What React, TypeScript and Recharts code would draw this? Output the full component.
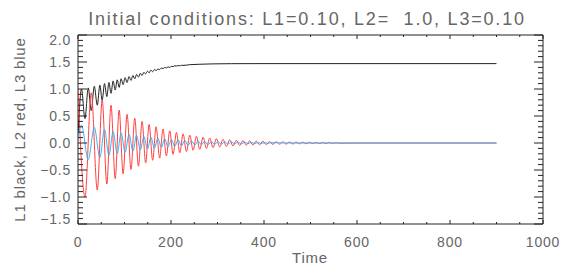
import { Line, LineChart, ReferenceArea, XAxis, YAxis } from 'recharts'

const W = 564
const H = 267
// plot box in page pixels
const BOX = { left: 78, top: 35, right: 543, bottom: 224 }
const BOX_W = BOX.right - BOX.left
const BOX_H = BOX.bottom - BOX.top

const TITLE = 'Initial conditions: L1=0.10, L2=  1.0, L3=0.10'
const X_TITLE = 'Time'
const Y_TITLE = 'L1 black, L2 red, L3 blue'

const X_MAJOR = [0, 200, 400, 600, 800, 1000]
const Y_MAJOR = [-1.5, -1.0, -0.5, 0.0, 0.5, 1.0, 1.5, 2.0]
const X_TICKS = Array.from({ length: 21 }, (_, i) => i * 50)
const Y_TICKS = Array.from({ length: 36 }, (_, i) => (i - 15) / 10)

// L2 (red): extrema
const RED_T = [
  0, 15, 28.5, 41.5, 52, 62, 71, 80, 88.5, 97,
  105.5, 114, 122, 130, 137.8, 145.5, 153, 160.5, 168, 175.5,
  182.8, 190, 197.3, 204.5, 211.7, 218.9, 226, 233.2, 240.4, 247.5,
  254.7, 261.8, 269, 276.1, 283.3, 290.4, 297.6, 304.7, 311.9, 319,
  326.2, 333.3, 340.5, 347.6, 354.8, 361.9, 369, 376.2, 383.3, 390.5,
  397.6, 404.8, 412, 419.1, 426.3, 433.4, 440.5, 447.7, 454.8, 462,
  469.1, 476.3, 483.4, 490.5, 497.7, 504.8, 512, 519.1, 526.3, 533.4,
  540.5, 547.7, 554.8, 562, 600, 900
]
const RED_V = [
  1.0, -1.0, 0.93, -0.87, 0.8, -0.76, 0.7, -0.66, 0.61, -0.57,
  0.53, -0.49, 0.46, -0.43, 0.4, -0.37, 0.345, -0.32, 0.3, -0.28,
  0.26, -0.24, 0.225, -0.21, 0.195, -0.18, 0.17, -0.157, 0.145, -0.135,
  0.125, -0.116, 0.108, -0.1, 0.093, -0.086, 0.08, -0.074, 0.068, -0.063,
  0.058, -0.054, 0.051, -0.048, 0.045, -0.042, 0.04, -0.037, 0.035, -0.033,
  0.031, -0.029, 0.027, -0.026, 0.024, -0.023, 0.021, -0.02, 0.019, -0.018,
  0.017, -0.016, 0.015, -0.014, 0.013, -0.012, 0.011, -0.01, 0.009, -0.008,
  0.007, -0.006, 0.005, -0.004, 0, 0
]

// L3 (blue)
const BLUE_T = [
  0, 7.5, 22, 35, 47, 57, 66.5, 75.5, 84.3, 92.8,
  101.3, 109.8, 118, 126, 134, 141.7, 149.3, 156.8, 164.3, 171.8,
  179.2, 186.4, 193.7, 201, 208, 215.3, 222.5, 229.6, 236.8, 244,
  251.1, 258.3, 265.4, 272.6, 279.7, 286.9, 294, 301.2, 308.3, 315.5,
  322.6, 329.8, 336.9, 344, 351.2, 358.4, 365.5, 372.6, 379.8, 386.9,
  394, 401.2, 408.3, 415.5, 450, 900
]
const BLUE_V = [
  0.1, 0.33, -0.31, 0.29, -0.27, 0.25, -0.23, 0.21, -0.195, 0.18,
  -0.17, 0.16, -0.15, 0.14, -0.13, 0.12, -0.112, 0.104, -0.096, 0.09,
  -0.083, 0.077, -0.071, 0.066, -0.061, 0.056, -0.052, 0.048, -0.044, 0.041,
  -0.038, 0.035, -0.032, 0.03, -0.028, 0.026, -0.024, 0.022, -0.021, 0.02,
  -0.019, 0.018, -0.017, 0.016, -0.015, 0.014, -0.013, 0.012, -0.011, 0.01,
  -0.009, 0.008, -0.007, 0.006, 0, 0
]

// L1 (black)
const BLACK_T = [
  0, 7.5, 15, 22, 28.5, 35, 41.5, 47, 52, 57,
  62, 66.5, 71, 75.5, 80, 84.3, 88.5, 92.8, 97, 101.3,
  105.5, 109.8, 114, 118, 122, 126, 130, 134, 137.8, 141.7,
  145.5, 149.3, 153, 156.8, 160.5, 164.3, 168, 171.8, 175.5, 179.2,
  182.8, 186.4, 190, 193.7, 197.3, 201, 204.5, 208, 211.7, 215.3,
  218.9, 222.5, 226, 240, 260, 290, 330, 400, 900
]
const BLACK_V = [
  0.1, 1.0, 0.45, 1.02, 0.6, 1.05, 0.7, 1.07, 0.79, 1.1,
  0.86, 1.12, 0.92, 1.15, 0.98, 1.17, 1.03, 1.19, 1.08, 1.21,
  1.12, 1.23, 1.16, 1.25, 1.19, 1.27, 1.22, 1.29, 1.25, 1.31,
  1.28, 1.33, 1.3, 1.35, 1.32, 1.36, 1.34, 1.37, 1.36, 1.39,
  1.375, 1.4, 1.39, 1.41, 1.4, 1.42, 1.415, 1.43, 1.425, 1.435,
  1.43, 1.44, 1.437, 1.45, 1.458, 1.465, 1.469, 1.47, 1.47
]

const zip = (ts: number[], vs: number[]) => ts.map((t, i) => ({ t, v: vs[i] }))
const red = zip(RED_T, RED_V)
const blue = zip(BLUE_T, BLUE_V)
const black = zip(BLACK_T, BLACK_V)

const FONT = '"Liberation Sans", Arial, sans-serif'
const TEXT = '#666'
const AXIS = '#222'

function XTick({ x, y, payload }: any) {
  const v = payload.value as number
  const major = X_MAJOR.includes(v)
  const len = major ? 4 : 2
  const top = y - BOX_H
  return (
    <g>
      <line x1={x} x2={x} y1={y} y2={y - len} stroke={AXIS} />
      <line x1={x} x2={x} y1={top} y2={top + len} stroke={AXIS} />
      {major && (
        <text x={x} y={y + 23} textAnchor="middle" fontSize={14} letterSpacing={0.8} fontFamily={FONT} fill={TEXT}>
          {v}
        </text>
      )}
    </g>
  )
}

function YTick({ x, y, payload }: any) {
  const v = payload.value as number
  const major = Y_MAJOR.some((m) => Math.abs(m - v) < 1e-6)
  const len = major ? 9 : 5
  const right = x + BOX_W
  // end labels sit a little inside the box
  const shift = Math.abs(v - 2) < 1e-6 ? 5 : Math.abs(v + 1.5) < 1e-6 ? -5 : 0
  const label = (v < 0 ? '\u2212' : '') + Math.abs(v).toFixed(1)
  return (
    <g>
      <line x1={x} x2={x + len} y1={y} y2={y} stroke={AXIS} />
      <line x1={right} x2={right - len} y1={y} y2={y} stroke={AXIS} />
      {major && (
        <text x={x - 7} y={y + shift + 5} textAnchor="end" fontSize={14} letterSpacing={0.8} fontFamily={FONT} fill={TEXT}>
          {label}
        </text>
      )}
    </g>
  )
}

export default function App() {
  const midY = (BOX.top + BOX.bottom) / 2
  return (
    <div style={{ position: 'absolute', left: 0, top: 0, width: W, height: H, background: '#fff' }}>
      <LineChart
        width={W}
        height={H}
        margin={{ top: BOX.top, right: W - BOX.right, bottom: 0, left: 0 }}
      >
        <XAxis
          type="number"
          dataKey="t"
          domain={[0, 1000]}
          ticks={X_TICKS}
          interval={0}
          height={H - BOX.bottom}
          tickSize={0}
          tickMargin={0}
          tickLine={false}
          axisLine={false}
          tick={XTick}
          allowDataOverflow
        />
        <YAxis
          type="number"
          domain={[-1.5, 2]}
          ticks={Y_TICKS}
          interval={0}
          width={BOX.left}
          tickSize={0}
          tickMargin={0}
          tickLine={false}
          axisLine={false}
          tick={YTick}
          allowDataOverflow
        />
        <ReferenceArea x1={0} x2={1000} y1={-1.5} y2={2} fill="none" stroke={AXIS} strokeWidth={1} />
        <Line data={black} dataKey="v" type="monotone" stroke="#222" strokeWidth={1} dot={false} isAnimationActive={false} />
        <Line data={red} dataKey="v" type="monotone" stroke="#ff4040" strokeWidth={1} dot={false} isAnimationActive={false} />
        <Line data={blue} dataKey="v" type="monotone" stroke="#3fb0f0" strokeWidth={1} dot={false} isAnimationActive={false} />
      </LineChart>
      <svg width={W} height={H} style={{ position: 'absolute', left: 0, top: 0, pointerEvents: 'none' }}>
        <text x={307} y={25} textAnchor="middle" fontSize={18} letterSpacing={1.8} fontFamily={FONT} fill={TEXT} style={{ whiteSpace: 'pre' }}>
          {TITLE}
        </text>
        <text x={310} y={263} textAnchor="middle" fontSize={15} letterSpacing={0.8} fontFamily={FONT} fill={TEXT}>
          {X_TITLE}
        </text>
        <text
          x={25}
          y={midY}
          textAnchor="middle"
          fontSize={15}
          letterSpacing={0.8}
          fontFamily={FONT}
          fill={TEXT}
          transform={`rotate(-90 25 ${midY})`}
        >
          {Y_TITLE}
        </text>
      </svg>
    </div>
  )
}
